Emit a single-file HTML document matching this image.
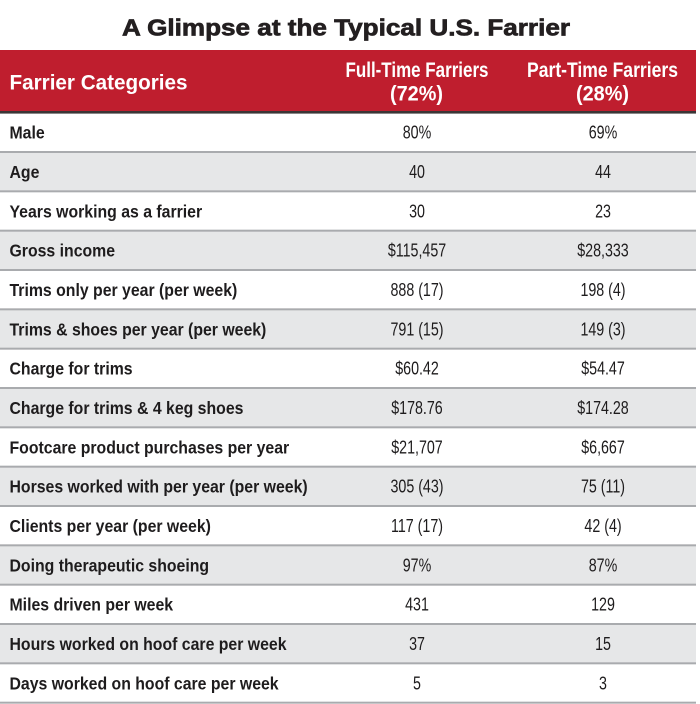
<!DOCTYPE html>
<html><head><meta charset="utf-8"><style>
html,body{margin:0;padding:0;background:#fff;width:700px;height:704px;overflow:hidden}
svg{display:block}
.t{font-family:"Liberation Sans",Arial,sans-serif}
.lab{font-family:"Liberation Sans",Arial,sans-serif;font-weight:bold;font-size:18px;fill:#1e1c1d}
.val{font-family:"Liberation Sans",Arial,sans-serif;font-size:18.5px;fill:#1e1c1d;text-anchor:middle}
</style></head><body>
<svg width="700" height="704" viewBox="0 0 700 704" xmlns="http://www.w3.org/2000/svg">
<rect x="0" y="0" width="700" height="704" fill="#fff"/>
<text class="t" x="122" y="35.5" font-size="23" font-weight="bold" fill="#231f20" stroke="#231f20" stroke-width="0.7" textLength="448" lengthAdjust="spacingAndGlyphs">A Glimpse at the Typical U.S. Farrier</text>
<rect x="0" y="50" width="696" height="61.5" fill="#bf1e2e"/>
<rect x="0" y="111" width="696" height="2.6" fill="#3b3536"/>
<text class="t" x="9.5" y="89.5" font-size="21" font-weight="bold" fill="#fff" textLength="178" lengthAdjust="spacingAndGlyphs">Farrier Categories</text>
<text class="t" x="345.5" y="77" font-size="21" font-weight="bold" fill="#fff" textLength="143" lengthAdjust="spacingAndGlyphs">Full-Time Farriers</text>
<text class="t" x="390" y="100.5" font-size="21" font-weight="bold" fill="#fff" textLength="53" lengthAdjust="spacingAndGlyphs">(72%)</text>
<text class="t" x="527" y="77" font-size="21" font-weight="bold" fill="#fff" textLength="151" lengthAdjust="spacingAndGlyphs">Part-Time Farriers</text>
<text class="t" x="576" y="100.5" font-size="21" font-weight="bold" fill="#fff" textLength="53" lengthAdjust="spacingAndGlyphs">(28%)</text>
<g fill="#e6e7e8">
<rect x="0" y="152" width="696" height="39.33"/>
<rect x="0" y="230.67" width="696" height="39.33"/>
<rect x="0" y="309.33" width="696" height="39.33"/>
<rect x="0" y="388" width="696" height="39.33"/>
<rect x="0" y="466.67" width="696" height="39.33"/>
<rect x="0" y="545.33" width="696" height="39.33"/>
<rect x="0" y="624" width="696" height="39.33"/>
</g>
<g fill="#a9abae">
<rect x="0" y="151" width="696" height="2"/>
<rect x="0" y="190.33" width="696" height="2"/>
<rect x="0" y="229.67" width="696" height="2"/>
<rect x="0" y="269" width="696" height="2"/>
<rect x="0" y="308.33" width="696" height="2"/>
<rect x="0" y="347.67" width="696" height="2"/>
<rect x="0" y="387" width="696" height="2"/>
<rect x="0" y="426.33" width="696" height="2"/>
<rect x="0" y="465.67" width="696" height="2"/>
<rect x="0" y="505" width="696" height="2"/>
<rect x="0" y="544.33" width="696" height="2"/>
<rect x="0" y="583.67" width="696" height="2"/>
<rect x="0" y="623" width="696" height="2"/>
<rect x="0" y="662.33" width="696" height="2"/>
<rect x="0" y="701.67" width="696" height="2"/>
</g>
<g>
<text class="lab" transform="translate(9.5,138.7) scale(0.88,1)">Male</text>
<text class="lab" transform="translate(9.5,178) scale(0.88,1)">Age</text>
<text class="lab" transform="translate(9.5,217.4) scale(0.88,1)">Years working as a farrier</text>
<text class="lab" transform="translate(9.5,256.7) scale(0.88,1)">Gross income</text>
<text class="lab" transform="translate(9.5,296) scale(0.88,1)">Trims only per year (per week)</text>
<text class="lab" transform="translate(9.5,335.4) scale(0.88,1)">Trims &amp; shoes per year (per week)</text>
<text class="lab" transform="translate(9.5,374.7) scale(0.88,1)">Charge for trims</text>
<text class="lab" transform="translate(9.5,414) scale(0.88,1)">Charge for trims &amp; 4 keg shoes</text>
<text class="lab" transform="translate(9.5,453.4) scale(0.88,1)">Footcare product purchases per year</text>
<text class="lab" transform="translate(9.5,492.7) scale(0.88,1)">Horses worked with per year (per week)</text>
<text class="lab" transform="translate(9.5,532) scale(0.88,1)">Clients per year (per week)</text>
<text class="lab" transform="translate(9.5,571.4) scale(0.88,1)">Doing therapeutic shoeing</text>
<text class="lab" transform="translate(9.5,610.7) scale(0.88,1)">Miles driven per week</text>
<text class="lab" transform="translate(9.5,650) scale(0.88,1)">Hours worked on hoof care per week</text>
<text class="lab" transform="translate(9.5,689.4) scale(0.88,1)">Days worked on hoof care per week</text>
</g>
<g>
<text class="val" transform="translate(417,138.7) scale(0.77,1)">80%</text>
<text class="val" transform="translate(417,178) scale(0.77,1)">40</text>
<text class="val" transform="translate(417,217.4) scale(0.77,1)">30</text>
<text class="val" transform="translate(417,256.7) scale(0.77,1)">$115,457</text>
<text class="val" transform="translate(417,296) scale(0.77,1)">888 (17)</text>
<text class="val" transform="translate(417,335.4) scale(0.77,1)">791 (15)</text>
<text class="val" transform="translate(417,374.7) scale(0.77,1)">$60.42</text>
<text class="val" transform="translate(417,414) scale(0.77,1)">$178.76</text>
<text class="val" transform="translate(417,453.4) scale(0.77,1)">$21,707</text>
<text class="val" transform="translate(417,492.7) scale(0.77,1)">305 (43)</text>
<text class="val" transform="translate(417,532) scale(0.77,1)">117 (17)</text>
<text class="val" transform="translate(417,571.4) scale(0.77,1)">97%</text>
<text class="val" transform="translate(417,610.7) scale(0.77,1)">431</text>
<text class="val" transform="translate(417,650) scale(0.77,1)">37</text>
<text class="val" transform="translate(417,689.4) scale(0.77,1)">5</text>
</g>
<g>
<text class="val" transform="translate(603,138.7) scale(0.77,1)">69%</text>
<text class="val" transform="translate(603,178) scale(0.77,1)">44</text>
<text class="val" transform="translate(603,217.4) scale(0.77,1)">23</text>
<text class="val" transform="translate(603,256.7) scale(0.77,1)">$28,333</text>
<text class="val" transform="translate(603,296) scale(0.77,1)">198 (4)</text>
<text class="val" transform="translate(603,335.4) scale(0.77,1)">149 (3)</text>
<text class="val" transform="translate(603,374.7) scale(0.77,1)">$54.47</text>
<text class="val" transform="translate(603,414) scale(0.77,1)">$174.28</text>
<text class="val" transform="translate(603,453.4) scale(0.77,1)">$6,667</text>
<text class="val" transform="translate(603,492.7) scale(0.77,1)">75 (11)</text>
<text class="val" transform="translate(603,532) scale(0.77,1)">42 (4)</text>
<text class="val" transform="translate(603,571.4) scale(0.77,1)">87%</text>
<text class="val" transform="translate(603,610.7) scale(0.77,1)">129</text>
<text class="val" transform="translate(603,650) scale(0.77,1)">15</text>
<text class="val" transform="translate(603,689.4) scale(0.77,1)">3</text>
</g>
</svg>
</body></html>
